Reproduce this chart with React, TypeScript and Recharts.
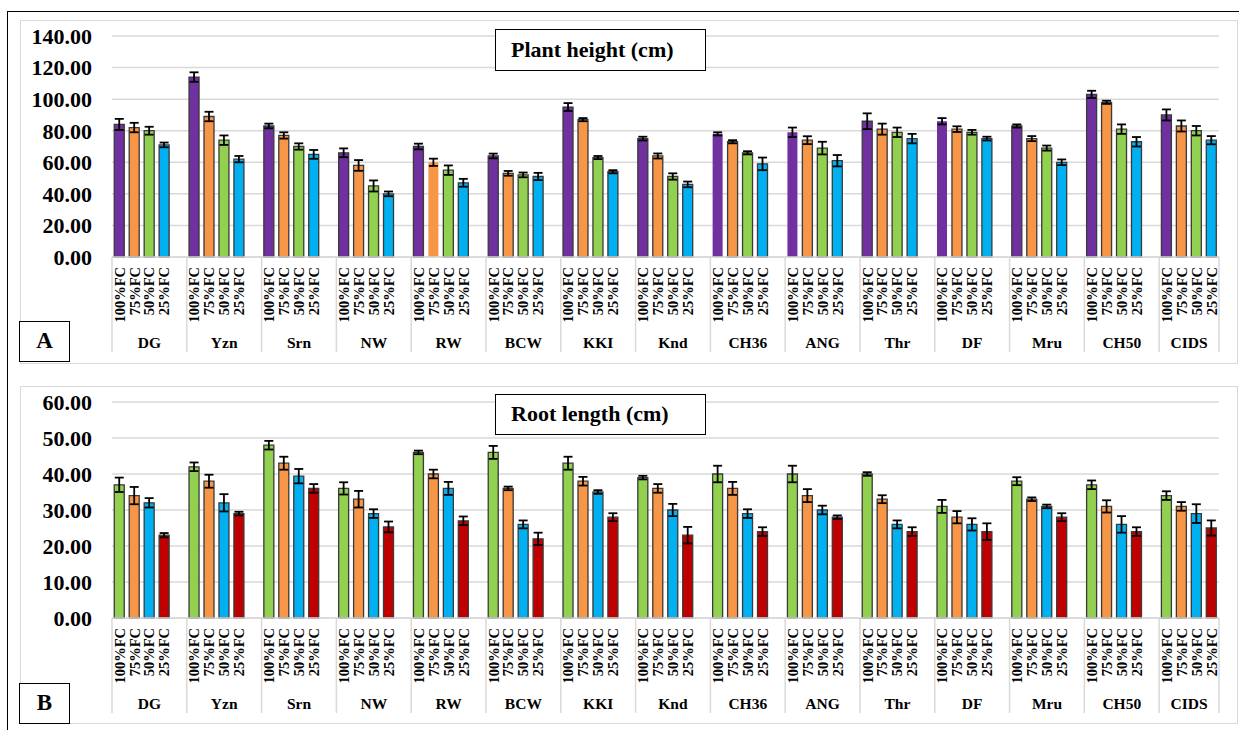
import { Bar, BarChart, CartesianGrid, Cell, ErrorBar, XAxis, YAxis } from 'recharts';

const genotypes = ['DG', 'Yzn', 'Srn', 'NW', 'RW', 'BCW', 'KKI', 'Knd', 'CH36', 'ANG', 'Thr', 'DF', 'Mru', 'CH50', 'CIDS'];
const treatments = ['100%FC', '75%FC', '50%FC', '25%FC'];

// plant height (cm), mean per treatment
const height100 = [84, 114, 83, 66, 70, 64, 95, 75, 78, 79, 86, 86, 83, 103, 90];
const height75 = [82, 89, 77, 58, 60, 53, 87, 64, 73, 74, 81, 81, 75, 98, 83];
const height50 = [80, 74, 70, 45, 55, 52, 63, 51, 66, 69, 79, 79, 69, 81, 80];
const height25 = [71, 62, 65, 40, 47, 51, 54, 46, 59, 61, 75, 75, 60, 73, 74];
// plant height error
const heightErr100 = [3.5, 3, 1.5, 2.8, 1.8, 1.5, 2.5, 1.2, 1, 3, 5, 2, 1, 2.3, 3.5];
const heightErr75 = [3, 3, 2, 3.4, 2.3, 1.5, 1, 1.6, 1, 2.5, 3.5, 1.8, 1.6, 1, 3.5];
const heightErr50 = [2.5, 3, 2, 3.5, 3, 1.5, 1, 2, 1, 4, 3, 1.5, 1.6, 3, 3];
const heightErr25 = [1.5, 2, 2.8, 1.5, 2.5, 2.3, 1, 1.8, 4, 3.6, 3, 1.2, 1.8, 3, 2.6];

// root length (cm)
const root100 = [37, 42, 48, 36, 46, 46, 43, 39, 40, 40, 40, 31, 38, 37, 34];
const root75 = [34, 38, 43, 33, 40, 36, 38, 36, 36, 34, 33, 28, 33, 31, 31];
const root50 = [32, 32, 39.4, 29, 36, 26, 35, 30, 29, 30, 26, 26, 31, 26, 29];
const root25 = [23, 29, 36, 25.3, 27, 22, 28, 23, 24, 28, 24, 24, 28, 24, 25];
const rootErr100 = [2, 1.2, 1.2, 1.7, 0.5, 1.8, 1.8, 0.5, 2.3, 2.3, 0.5, 1.8, 1.1, 1.2, 1.2];
const rootErr75 = [2.4, 1.8, 1.8, 2.3, 1.2, 0.5, 1.2, 1.2, 1.8, 1.8, 1.1, 1.7, 0.5, 1.7, 1.2];
const rootErr50 = [1.3, 2.4, 2, 1.2, 1.8, 1.1, 0.5, 1.7, 1.2, 1.2, 1.1, 1.7, 0.5, 2.3, 2.6];
const rootErr25 = [0.6, 0.5, 1.2, 1.5, 1.2, 1.7, 1.1, 2.3, 1.2, 0.5, 1.2, 2.3, 1.1, 1.2, 2.1];

const heightTicks = [0, 20, 40, 60, 80, 100, 120, 140];
const rootTicks = [0, 10, 20, 30, 40, 50, 60];

const colorsA = ['#7030A0', '#F79646', '#92D050', '#00B0F0'];
const colorsB = ['#92D050', '#F79646', '#00B0F0', '#C00000'];
// bars drawn without outline in panel A
const noOutlineA = ['RW-1', 'CH36-0', 'ANG-0', 'DF-0'];

const FONT = "'Liberation Serif', 'DejaVu Serif', serif";
const CHART_W = 1239;
const Y_W = 112;
const RIGHT = 20;

type Row = { key: string; label: string; group: string; g: number; t: number; value: number | null; err: number | null };

function buildRows(means: number[][], errs: number[][]): Row[] {
  const rows: Row[] = [];
  genotypes.forEach((name, g) => {
    treatments.forEach((label, t) => {
      rows.push({ key: `${name}-${t}`, label, group: name, g, t, value: means[t][g], err: errs[t][g] });
    });
    if (g < genotypes.length - 1) {
      rows.push({ key: `gap-${g}`, label: '', group: name, g, t: -1, value: null, err: null });
    }
  });
  return rows;
}

const heightRows = buildRows([height100, height75, height50, height25], [heightErr100, heightErr75, heightErr50, heightErr25]);
const rootRows = buildRows([root100, root75, root50, root25], [rootErr100, rootErr75, rootErr50, rootErr25]);

function CategoryTick(props: any) {
  const { x, y, index, rows } = props;
  const row: Row = rows[index];
  const slot = (CHART_W - Y_W - RIGHT) / rows.length;
  const lastGroup = row.g === genotypes.length - 1;
  const groupW = slot * (lastGroup ? 4 : 5);
  const left = x - slot / 2;
  const ly = y + 10;
  return (
    <g>
      {row.label && (
        <text
          x={x}
          y={ly}
          transform={`rotate(-90 ${x} ${ly})`}
          textAnchor="end"
          dy="0.35em"
          fontFamily={FONT}
          fontWeight={700}
          fontSize={14.5}
          fill="#000"
        >
          {row.label}
        </text>
      )}
      {row.t === 0 && (
        <>
          <line x1={left} x2={left} y1={y} y2={y + 95} stroke="#d9d9d9" strokeWidth={1.5} />
          <text x={left + groupW / 2} y={y + 91} textAnchor="middle" fontFamily={FONT} fontWeight={700} fontSize={15.5} fill="#000">
            {row.group}
          </text>
        </>
      )}
      {lastGroup && row.t === 3 && <line x1={x + slot / 2} x2={x + slot / 2} y1={y} y2={y + 95} stroke="#d9d9d9" strokeWidth={1.5} />}
    </g>
  );
}

function Panel({ rows, colors, ticks, top, height, plotTop, axisH, noOutline }: any) {
  return (
    <div style={{ position: 'absolute', left: 0, top }}>
      <BarChart width={CHART_W} height={height} data={rows} margin={{ top: plotTop, right: RIGHT, bottom: 0, left: 0 }} barCategoryGap="15%">
        <CartesianGrid vertical={false} stroke="#d9d9d9" strokeWidth={1.5} />
        <XAxis
          dataKey="key"
          interval={0}
          height={axisH}
          tickLine={false}
          tickSize={0}
          tickMargin={0}
          axisLine={{ stroke: '#d9d9d9', strokeWidth: 1.5 }}
          tick={<CategoryTick rows={rows} />}
        />
        <YAxis
          width={Y_W}
          domain={[ticks[0], ticks[ticks.length - 1]]}
          ticks={ticks}
          interval={0}
          axisLine={false}
          tickLine={false}
          tickSize={0}
          tickMargin={20}
          tickFormatter={(v: number) => v.toFixed(2)}
          tick={{ fill: '#000', fontSize: 22, fontWeight: 700, fontFamily: FONT }}
        />
        <Bar dataKey="value" isAnimationActive={false}>
          {rows.map((r: Row) => (
            <Cell
              key={r.key}
              fill={r.t >= 0 ? colors[r.t] : 'none'}
              stroke={noOutline.includes(r.key) ? 'none' : '#3a3a3a'}
              strokeWidth={1.3}
            />
          ))}
          <ErrorBar dataKey="err" width={4.5} stroke="#000" strokeWidth={1.8} isAnimationActive={false} />
        </Bar>
      </BarChart>
    </div>
  );
}

function Box({ left, top, width, height, text, size, pad }: any) {
  return (
    <div
      style={{
        position: 'absolute',
        left,
        top,
        width,
        height,
        boxSizing: 'border-box',
        border: '1.5px solid #000',
        background: '#fff',
        fontFamily: FONT,
        fontWeight: 700,
        fontSize: size,
        lineHeight: `${height - 3}px`,
        textAlign: pad ? 'left' : 'center',
        paddingLeft: pad || 0,
        color: '#000',
        whiteSpace: 'nowrap',
      }}
    >
      {text}
    </div>
  );
}

export default function App() {
  return (
    <div style={{ position: 'absolute', left: 0, top: 0, width: 1239, height: 730, overflow: 'hidden', background: '#fff' }}>
      <div style={{ position: 'absolute', left: 7, top: 11, width: 1400, height: 900, borderLeft: '1.5px solid #000', borderTop: '1.5px solid #000' }} />
      <div style={{ position: 'absolute', left: 20, top: 20, width: 1218, height: 344, boxSizing: 'border-box', border: '1.5px solid #d9d9d9' }} />
      <div style={{ position: 'absolute', left: 20, top: 386, width: 1218, height: 338, boxSizing: 'border-box', border: '1.5px solid #d9d9d9' }} />
      <Panel rows={heightRows} colors={colorsA} ticks={heightTicks} top={0} height={370} plotTop={36} axisH={113} noOutline={noOutlineA} />
      <Panel rows={rootRows} colors={colorsB} ticks={rootTicks} top={370} height={360} plotTop={32} axisH={112} noOutline={[]} />
      <Box left={495} top={29} width={211} height={42} text="Plant height (cm)" size={22} pad={15} />
      <Box left={19} top={321} width={51} height={41} text="A" size={23} />
      <Box left={495} top={394} width={211} height={41} text="Root length (cm)" size={22} pad={15} />
      <Box left={19} top={683} width={51} height={41} text="B" size={23} />
    </div>
  );
}
